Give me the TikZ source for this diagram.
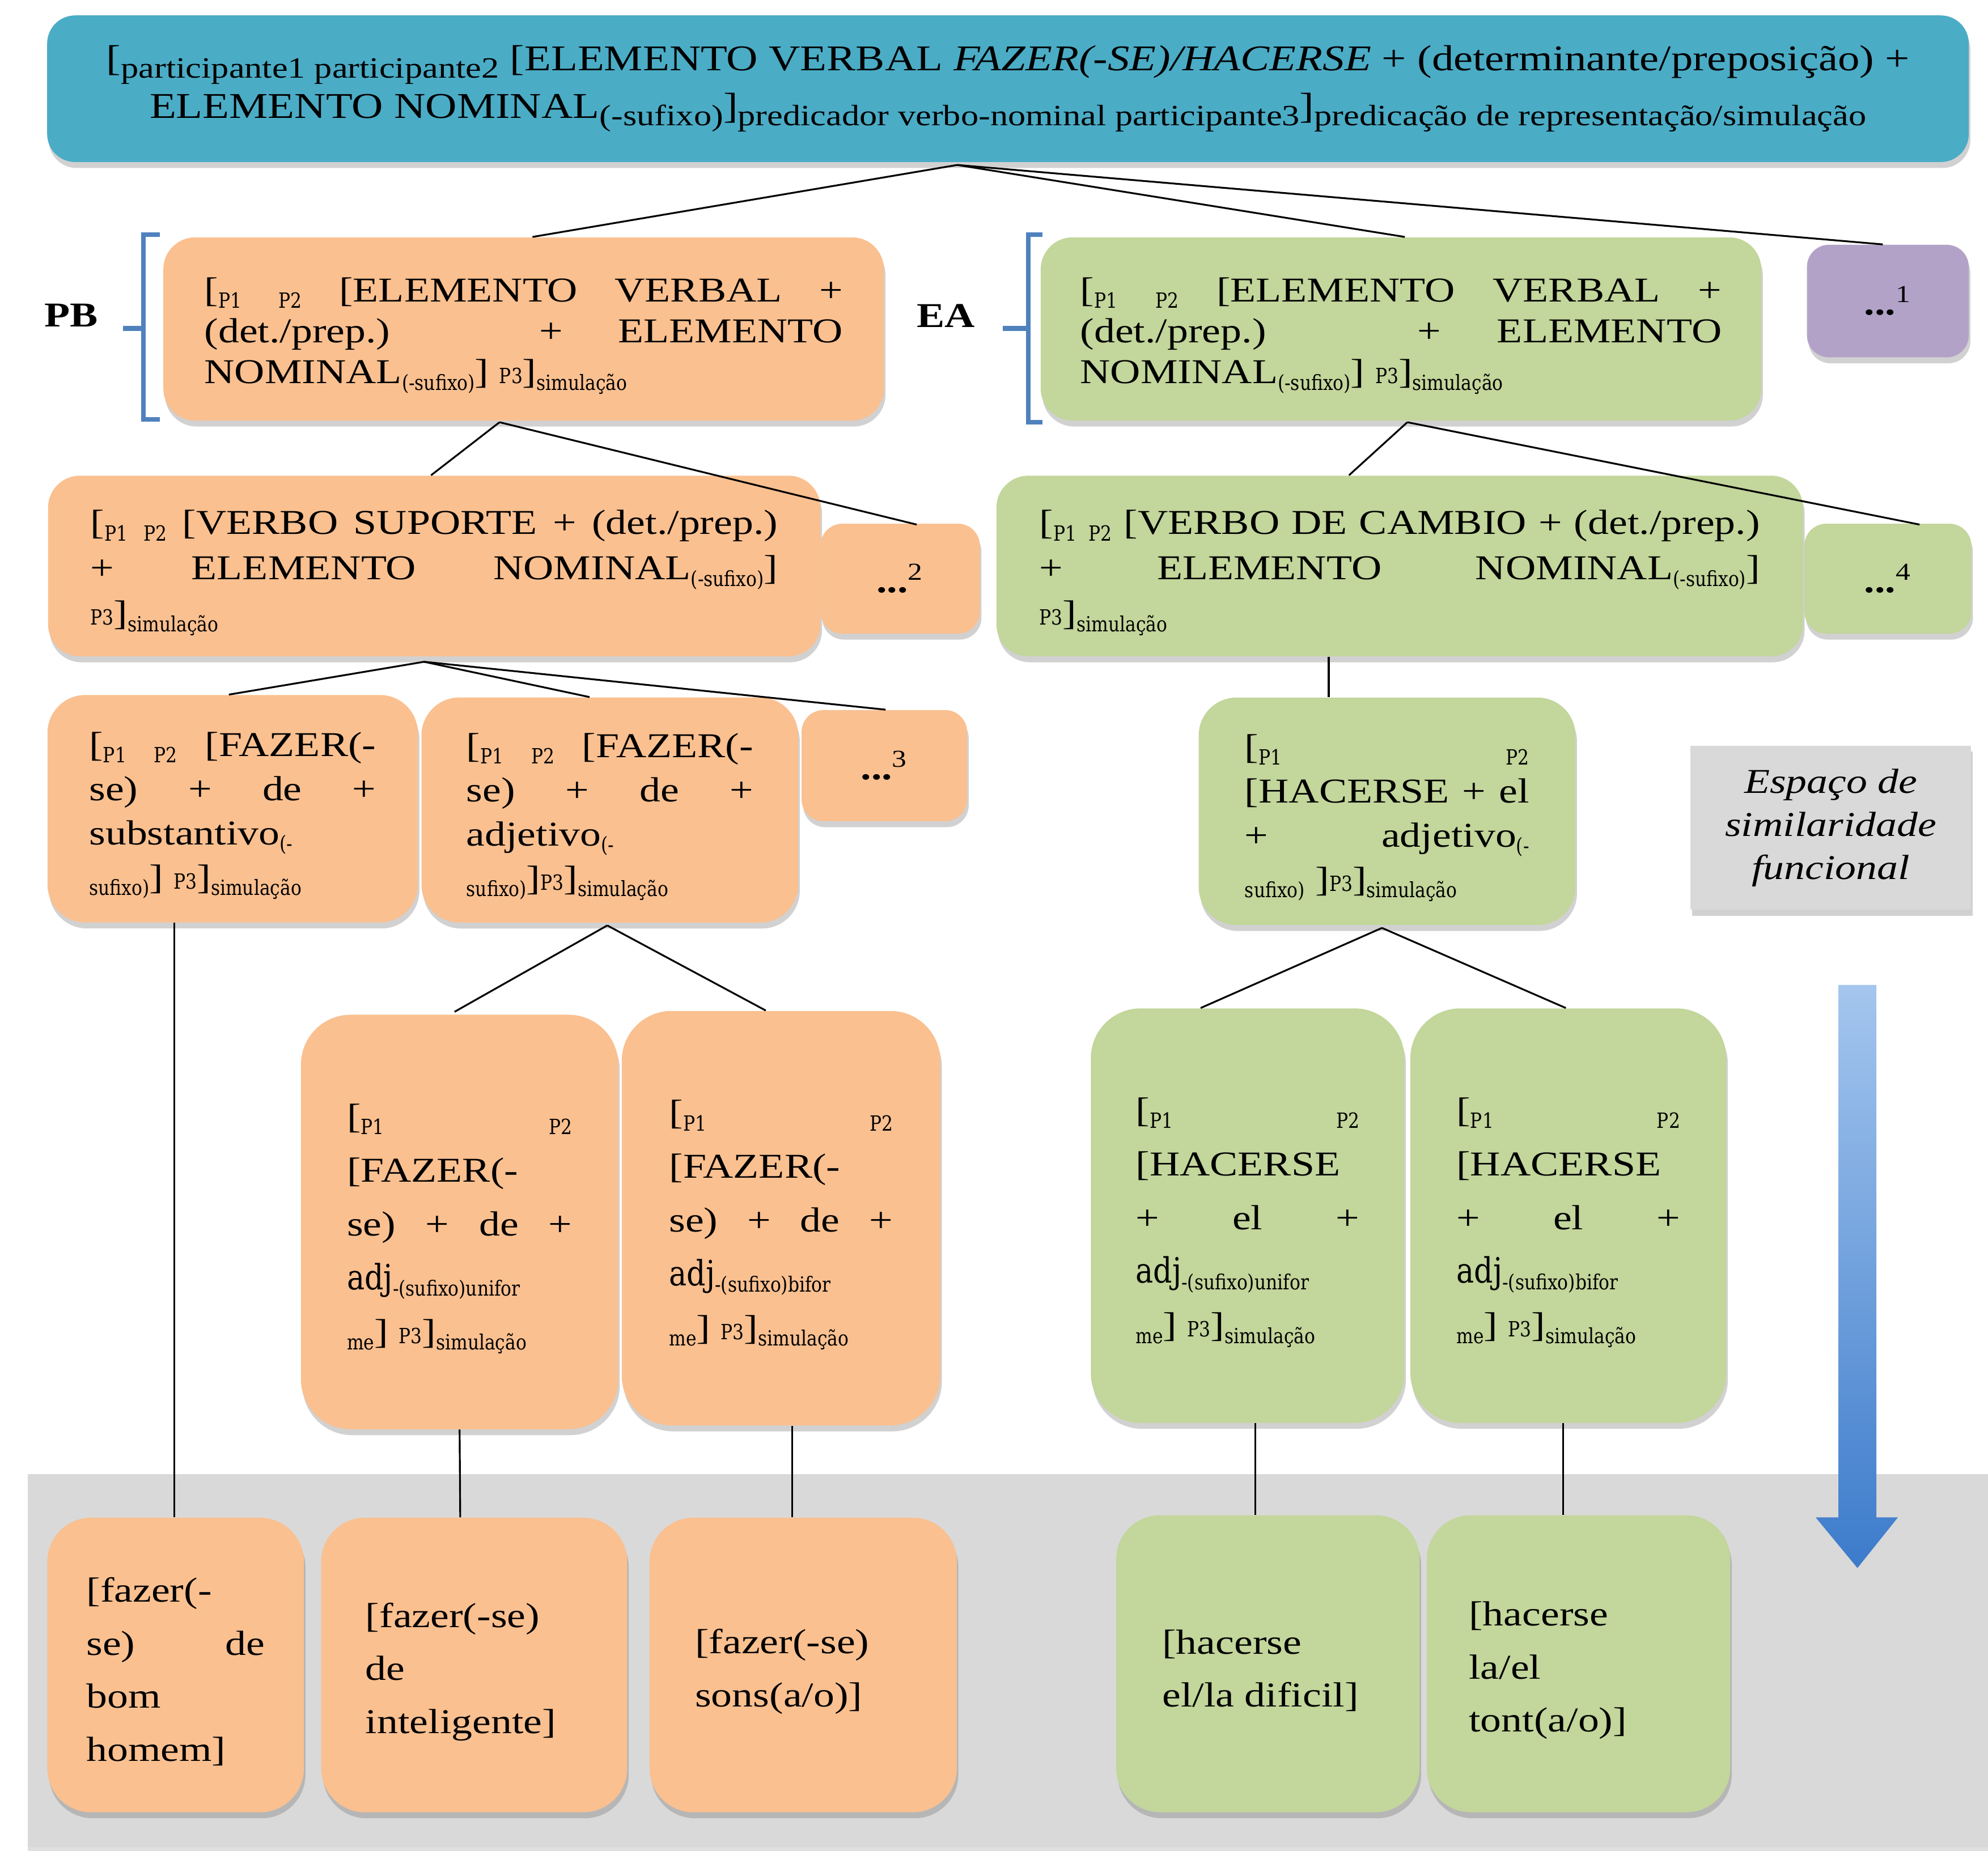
\documentclass[tikz,border=0pt]{standalone}
\usepackage{fontspec}
\setmainfont{Liberation Serif}[FakeStretch=1.2]
\newfontfamily\subf{DejaVu Serif}[FakeStretch=0.85]
\usetikzlibrary{shadows,calc}
\definecolor{topblue}{HTML}{4BACC6}
\definecolor{orng}{HTML}{FAC090}
\definecolor{grn}{HTML}{C3D69B}
\definecolor{purp}{HTML}{B3A2C7}
\definecolor{lgray}{HTML}{D9D9D9}
\definecolor{brblue}{HTML}{4F81BD}
\definecolor{arrtop}{HTML}{A4C6EE}
\definecolor{arrbot}{HTML}{3C7BCB}
\newcommand\los[1]{\raisebox{-0.45ex}{\fontsize{14.8}{16}\selectfont #1}}
\newcommand\lo[1]{\raisebox{-0.4ex}{\subf\fontsize{10.5}{12}\selectfont #1}}
\newcommand\sm[1]{{\subf\fontsize{10.5}{12}\selectfont #1}}
\newcommand\nl{\linebreak[4]}
\newcommand\st{\rule{0pt}{19pt}}
\newcommand\nobrk{\tolerance=10000\relax\hyphenpenalty=10000\relax\exhyphenpenalty=10000\relax}
\begin{document}
\begin{tikzpicture}[x=0.022366cm, y=-0.022366cm,
  shd/.style={drop shadow={shadow xshift=0.8pt, shadow yshift=-3pt, fill=black!60, opacity=0.3}},
  box/.style={rounded corners=#1, inner sep=0pt, shd},
  ob/.style={box=#1, fill=orng},
  gb/.style={box=#1, fill=grn},
  tf/.style={align=justify, font=\fontsize{17.5}{#1}\selectfont\nobrk},
  dots/.style={font=\fontsize{17.5}{20}\selectfont},
  conn/.style={black, line width=0.9pt}]
\useasboundingbox (0,0) rectangle (1568,1460);

% bottom band
\path[fill=lgray, drop shadow={shadow xshift=0pt, shadow yshift=-2pt, fill=black!50, opacity=0.25}] (22,1163) rectangle (1568,1457);

% arrow
\shade[top color=arrtop, bottom color=arrbot] (1450,777) -- (1480,777) -- (1480,1197) -- (1497,1197) -- (1465,1237) -- (1432,1197) -- (1450,1197) -- cycle;

% top box
\node[box=14pt, fill=topblue, minimum width=964.6pt, minimum height=73.6pt, align=center,
  font=\fontsize{18.2}{24}\selectfont] (top) at (795,70)
 {[\los{participante1 participante2} [ELEMENTO VERBAL \textit{FAZER(-SE)/HACERSE} + (determinante/preposição) +\\
  ELEMENTO NOMINAL\los{(-sufixo)}]\los{predicador verbo-nominal participante3}]\los{predicação de representação/simulação}};

% labels and brackets
\node[font=\bfseries\fontsize{17.5}{20}\selectfont] (lpb) at (56,249) {PB};
\node[font=\bfseries\fontsize{17.5}{20}\selectfont] (lea) at (746,249) {EA};
\draw[brblue, line width=2.2pt] (126,185) -- (113,185) -- (113,331) -- (126,331);
\draw[brblue, line width=2.6pt] (97,259) -- (113,259);
\draw[brblue, line width=2.2pt] (822,185) -- (811,185) -- (811,333) -- (822,333);
\draw[brblue, line width=2.6pt] (791,259) -- (811,259);

% level 1
\node[ob=16pt, minimum width=361.7pt, minimum height=92pt, text width=320.5pt, tf=20.6pt] (pb) at (413,259.5)
 {\st[\lo{P1} \lo{P2} [ELEMENTO VERBAL +\nl (det./prep.) + ELEMENTO\nl NOMINAL\lo{(-sufixo)}] \sm{P3}]\lo{simulação}};
\node[gb=16pt, minimum width=361.7pt, minimum height=92pt, text width=322pt, tf=20.6pt] (ea) at (1105,259.5)
 {\st[\lo{P1} \lo{P2} [ELEMENTO VERBAL +\nl (det./prep.) + ELEMENTO\nl NOMINAL\lo{(-sufixo)}] \sm{P3}]\lo{simulação}};
\node[box=11pt, fill=purp, minimum width=81.2pt, minimum height=56.5pt, dots] (d1) at (1489,237.5)
 {\textbf{...}\textsuperscript{1}};

% level 2
\node[ob=16pt, minimum width=387.7pt, minimum height=90.7pt, text width=345pt, tf=22.8pt] (vs) at (342.5,446.5)
 {\st[\lo{P1} \lo{P2} [VERBO SUPORTE + (det./prep.)\nl + ELEMENTO NOMINAL\lo{(-sufixo)}]\nl \sm{P3}]\lo{simulação}};
\node[ob=11pt, minimum width=80pt, minimum height=55.2pt, dots] (d2) at (710,456.5)
 {\textbf{...}\textsuperscript{2}};
\node[gb=16pt, minimum width=404.9pt, minimum height=90.7pt, text width=361.7pt, tf=22.8pt] (vc) at (1104,446.5)
 {\st[\lo{P1} \lo{P2} [VERBO DE CAMBIO + (det./prep.)\nl + ELEMENTO NOMINAL\lo{(-sufixo)}]\nl \sm{P3}]\lo{simulação}};
\node[gb=11pt, minimum width=83.8pt, minimum height=55.2pt, dots] (d4) at (1489,456.5)
 {\textbf{...}\textsuperscript{4}};

% level 3
\node[ob=19pt, minimum width=185.9pt, minimum height=114.2pt, text width=144pt, tf=22.2pt] (sub) at (183.5,638)
 {\st[\lo{P1} \lo{P2} [FAZER(-\nl se) + de +\nl substantivo\lo{(-}\nl \lo{sufixo)}] \sm{P3}]\lo{simulação}};
\node[ob=19pt, minimum width=189.1pt, minimum height=113pt, text width=144pt, tf=22.2pt] (adj) at (481,639)
 {\st[\lo{P1} \lo{P2} [FAZER(-\nl se) + de +\nl adjetivo\lo{(-}\nl \lo{sufixo)}]\sm{P3}]\lo{simulação}};
\node[ob=11pt, minimum width=83.1pt, minimum height=55.8pt, dots] (d3) at (697.5,604)
 {\textbf{...}\textsuperscript{3}};
\node[gb=19pt, minimum width=189.1pt, minimum height=114.2pt, text width=142.8pt, tf=22.2pt] (hac) at (1094,640)
 {\st[\lo{P1} \lo{P2}\nl [HACERSE + el\nl + adjetivo\lo{(-}\nl \lo{sufixo)} ]\sm{P3}]\lo{simulação}};
\node[fill=lgray, minimum width=140.9pt, minimum height=82.5pt, align=center, shd,
  font=\itshape\fontsize{17.5}{21.6}\selectfont] (esp) at (1444,653) {Espaço de\\similaridade\\funcional};

% level 4
\node[ob=25pt, minimum width=159.3pt, minimum height=208.1pt, text width=113pt, tf=27pt] (au) at (362.5,964)
 {\st[\lo{P1} \lo{P2}\nl [FAZER(-\nl se) + de +\nl {\subf adj}\lo{-(sufixo)unifor}\nl \lo{me}] \sm{P3}]\lo{simulação}};
\node[ob=25pt, minimum width=159.9pt, minimum height=208.1pt, text width=112.3pt, tf=27pt] (ab) at (616,961)
 {\st[\lo{P1} \lo{P2}\nl [FAZER(-\nl se) + de +\nl {\subf adj}\lo{-(sufixo)bifor}\nl \lo{me}] \sm{P3}]\lo{simulação}};
\node[gb=25pt, minimum width=157.4pt, minimum height=208.1pt, text width=112.3pt, tf=27pt] (hu) at (984,959)
 {\st[\lo{P1} \lo{P2}\nl [HACERSE\nl + el +\nl {\subf adj}\lo{-(sufixo)unifor}\nl \lo{me}] \sm{P3}]\lo{simulação}};
\node[gb=25pt, minimum width=158.6pt, minimum height=208.1pt, text width=112.3pt, tf=27pt] (hb) at (1237,959)
 {\st[\lo{P1} \lo{P2}\nl [HACERSE\nl + el +\nl {\subf adj}\lo{-(sufixo)bifor}\nl \lo{me}] \sm{P3}]\lo{simulação}};

% bottom examples
\node[ob=22pt, minimum width=128.8pt, minimum height=147.9pt, text width=89.5pt, tf=26.6pt] (b1) at (138.5,1313.5)
 {\st[fazer(-\nl se) de\nl bom\nl homem]};
\node[ob=22pt, minimum width=153.6pt, minimum height=147.9pt, text width=109pt, tf=26.6pt] (b2) at (374,1313.5)
 {\st[fazer(-se)\nl de\nl inteligente]};
\node[ob=22pt, minimum width=154.2pt, minimum height=147.9pt, text width=108.5pt, tf=26.6pt] (b3) at (633.5,1313.5)
 {\st[fazer(-se)\nl sons(a/o)]};
\node[gb=22pt, minimum width=152.3pt, minimum height=149.1pt, text width=106pt, tf=26.6pt] (b4) at (1000,1312.5)
 {\st[hacerse\nl el/la dificil]};
\node[gb=22pt, minimum width=152.3pt, minimum height=149.1pt, text width=110pt, tf=26.6pt] (b5) at (1245,1312.5)
 {\st[hacerse\nl la/el\nl tont(a/o)]};

% connectors
\draw[conn] ($(top.south)+(-40,2)$) -- ($(pb.north)+(7,0)$);
\draw[conn] ($(top.south)+(-40,2)$) -- ($(ea.north)+(3,0)$);
\draw[conn] ($(top.south)+(-40,2)$) -- ($(d1.north)+(-4,0)$);
\draw[conn] ($(pb.south)+(-19,1)$) -- ($(vs.north)+(-2.5,0)$);
\draw[conn] ($(pb.south)+(-19,1)$) -- ($(d2.north)+(13,1)$);
\draw[conn] ($(ea.south)+(5,1)$) -- ($(vc.north)+(-40,0)$);
\draw[conn] ($(ea.south)+(5,1)$) -- ($(d4.north)+(25,1)$);
\draw[conn] ($(vs.south)+(-8,4)$) -- ($(sub.north)+(-3,0)$);
\draw[conn] ($(vs.south)+(-8,4)$) -- ($(adj.north)+(-16,0)$);
\draw[conn] ($(vs.south)+(-8,4)$) -- ($(d3.north)+(1,0)$);
\draw[conn] ($(vc.south)+(-56,0)$) -- ($(hac.north)+(-46,0)$);
\draw[conn] ($(sub.south)+(-46,0)$) -- ($(b1.north)+(-1,0)$);
\draw[conn] ($(adj.south)+(-2,2)$) -- ($(au.north)+(-4,-2)$);
\draw[conn] ($(adj.south)+(-2,2)$) -- ($(ab.north)+(-12,0)$);
\draw[conn] ($(hac.south)+(-4,2)$) -- ($(hu.north)+(-37,0)$);
\draw[conn] ($(hac.south)+(-4,2)$) -- ($(hb.north)+(-2,0)$);
\draw[conn] ($(au.south)+(0,0)$) -- ($(b2.north)+(-11,0)$);
\draw[conn] ($(ab.south)+(9,0)$) -- ($(b3.north)+(-8.5,0)$);
\draw[conn] ($(hu.south)+(6,0)$) -- ($(b4.north)+(-10,0)$);
\draw[conn] ($(hb.south)+(-4,0)$) -- ($(b5.north)+(-12,0)$);
\end{tikzpicture}
\end{document}
